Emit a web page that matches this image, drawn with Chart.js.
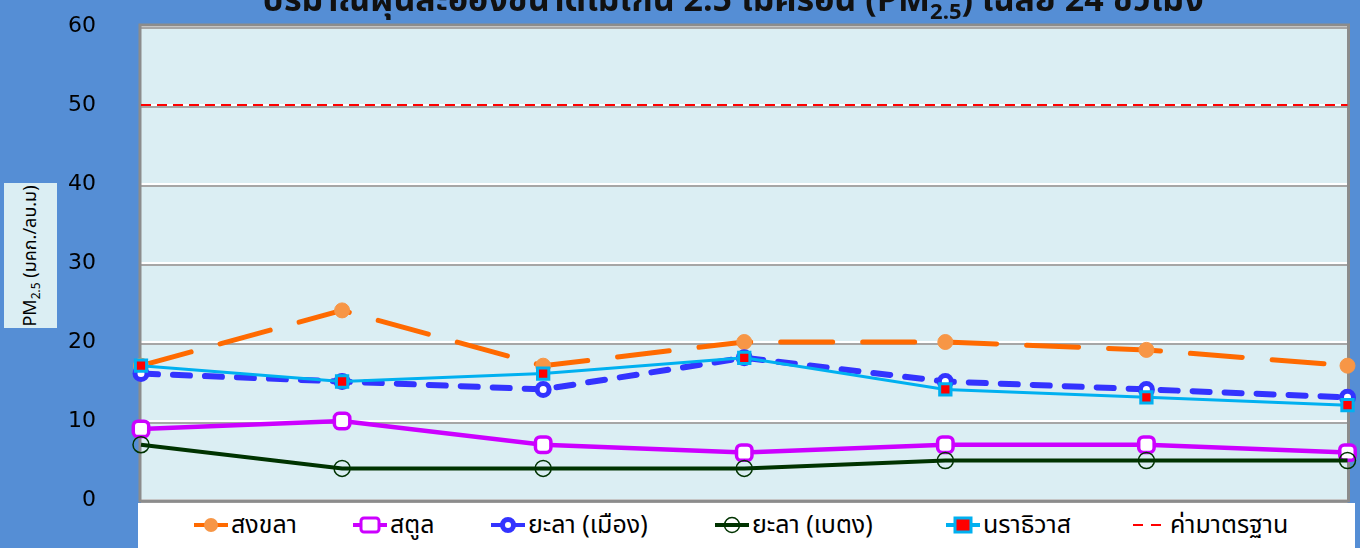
<!DOCTYPE html>
<html>
<head>
<meta charset="utf-8">
<script src="https://cdn.jsdelivr.net/npm/chart.js@4.4.1/dist/chart.umd.min.js"></script>
<style>
  html, body { margin: 0; padding: 0; }
  body { width: 1360px; height: 548px; background: #558ED5; position: relative; overflow: hidden;
         font-family: Tahoma, "Noto Sans Thai", "Noto Sans", "DejaVu Sans", sans-serif; }
  #wrap { position: absolute; left: 0; top: 0; width: 1360px; height: 548px; }
  #title { position: absolute; left: 0; width: 1466px; top: -25px; text-align: center;
           font-size: 34px; font-weight: bold; color: #111; white-space: nowrap; }
  #title sub { font-size: 22px; }
  #ytitle { position: absolute; left: 4px; top: 183px; width: 53px; height: 145px; background: #DBEEF3; }
  #ytitle span { position: absolute; left: 50%; top: 50%; transform: translate(-50%, -50%) rotate(-90deg);
                 white-space: nowrap; font-size: 18px; color: #000; }
  #ytitle sub { font-size: 12px; }
  #legend { position: absolute; left: 138px; top: 503px; width: 1217px; height: 45px; background: #fff; }
  .item { position: absolute; top: 8px; height: 28px; display: flex; align-items: center;
          font-size: 25px; color: #000; white-space: nowrap; }
  .item svg { margin-right: 3px; }
</style>
</head>
<body>
<div id="wrap"><canvas id="graphCanvas" width="1360" height="548"></canvas></div>
<div id="title">ปริมาณฝุ่นละอองขนาดไม่เกิน 2.5 ไมครอน (PM<sub>2.5</sub>) เฉลี่ย 24 ชั่วโมง</div>
<div id="ytitle"><span>PM<sub>2.5</sub> (มคก./ลบ.ม)</span></div>
<div id="legend"></div>
<script>
// ข้อมูล
var categories = ['1', '2', '3', '4', '5', '6', '7'];
var seriesNames = ['สงขลา', 'สตูล', 'ยะลา (เมือง)', 'ยะลา (เบตง)', 'นราธิวาส', 'ค่ามาตรฐาน'];
var songkhla = [17, 24, 17, 20, 20, 19, 17];
var satun = [9, 10, 7, 6, 7, 7, 6];
var yalaMueang = [16, 15, 14, 18, 15, 14, 13];
var yalaBetong = [7, 4, 4, 4, 5, 5, 5];
var narathiwat = [17, 15, 16, 18, 14, 13, 12];
var standard = [50, 50, 50, 50, 50, 50, 50];
var yTicks = [0, 10, 20, 30, 40, 50, 60];

// พื้นหลังพื้นที่กราฟ + เส้นเงาของ grid + กรอบ
var plotBg = {
    id: 'plotBg',
    beforeDraw: function(chart) {
        var ctx = chart.ctx, a = chart.chartArea, y = chart.scales.y;
        ctx.save();
        ctx.fillStyle = '#DBEEF3';
        ctx.fillRect(a.left, a.top, a.right - a.left, a.bottom - a.top);
        ctx.strokeStyle = '#A6A6A6';
        ctx.lineWidth = 2;
        yTicks.forEach(function(v) {
            var py = Math.round(y.getPixelForValue(v)) + 2;
            ctx.beginPath();
            ctx.moveTo(a.left, py);
            ctx.lineTo(a.right, py);
            ctx.stroke();
        });
        ctx.restore();
    },
    beforeDatasetsDraw: function(chart) {
        var ctx = chart.ctx, a = chart.chartArea;
        ctx.save();
        ctx.strokeStyle = '#8C8C8C';
        ctx.lineWidth = 3;
        ctx.strokeRect(a.left - 1, a.top - 1, a.right - a.left + 2, a.bottom - a.top + 2);
        ctx.restore();
    }
};

var datasets = [
    { label: seriesNames[0], data: songkhla, borderColor: '#FF6A00', borderWidth: 5, borderDash: [52, 30], borderCapStyle: 'round',
      pointStyle: 'circle', pointRadius: 7.5, pointBackgroundColor: '#F79646', pointBorderColor: '#F79646', pointBorderWidth: 1 },
    { label: seriesNames[1], data: satun, borderColor: '#CC00FF', borderWidth: 4.5,
      pointStyle: 'rectRounded', pointRadius: 9, pointBackgroundColor: '#FFFFFF', pointBorderColor: '#CC00FF', pointBorderWidth: 3.5 },
    { label: seriesNames[2], data: yalaMueang, borderColor: '#3333FF', borderWidth: 6, borderDash: [17, 15], borderCapStyle: 'round',
      pointStyle: 'circle', pointRadius: 6, pointBackgroundColor: '#FFFFFF', pointBorderColor: '#3333FF', pointBorderWidth: 5 },
    { label: seriesNames[3], data: yalaBetong, borderColor: '#003300', borderWidth: 4,
      pointStyle: 'circle', pointRadius: 8, pointBackgroundColor: 'rgba(0,0,0,0)', pointBorderColor: '#003300', pointBorderWidth: 1.5 },
    { label: seriesNames[4], data: narathiwat, borderColor: '#00B0F0', borderWidth: 3,
      pointStyle: 'rect', pointRadius: 8, pointBackgroundColor: '#FF0000', pointBorderColor: '#00B0F0', pointBorderWidth: 3 },
    { label: seriesNames[5], data: standard, borderColor: '#FF0000', borderWidth: 2, borderDash: [10, 6],
      pointRadius: 0 }
];
datasets.forEach(function(d, i) {
    d.order = 10 - i;       // ชุดหลังวาดทับชุดก่อน
    d.fill = false;
    d.tension = 0;
    d.clip = false;
    d.pointHoverRadius = d.pointRadius;
});

var ctx = document.getElementById('graphCanvas').getContext('2d');
window.myChart = new Chart(ctx, {
    type: 'line',
    data: { labels: categories, datasets: datasets },
    plugins: [plotBg],
    options: {
        responsive: false,
        animation: false,
        layout: { padding: { left: 0, right: 6, top: 26, bottom: 48 } },
        plugins: { legend: { display: false }, tooltip: { enabled: false }, title: { display: false } },
        scales: {
            x: { display: false, offset: false },
            y: {
                min: 0, max: 60,
                // ความกว้างแกน y คงที่ และไม่ให้ padding ของ tick ไปดันด้านบน/ล่าง
                afterFit: function(s) { s.width = 141; s.paddingTop = 0; s.paddingBottom = 0; },
                border: { display: false },
                grid: { color: '#FFFFFF', lineWidth: 2, drawTicks: false },
                ticks: { stepSize: 10, padding: 45, color: '#000', font: { family: 'DejaVu Sans', size: 22 } }
            }
        }
    }
});

// คำอธิบายสัญลักษณ์
var legendPos = [56, 215, 353, 577, 808, 995];
function icon(i) {
    var d = datasets[i];
    var s = '<svg width="34" height="20" viewBox="0 0 34 20">';
    var dash = i === 5 ? ' stroke-dasharray="10 8"' : '';
    var lw = i === 5 ? 2 : 4;
    s += '<line x1="0" y1="10" x2="34" y2="10" stroke="' + d.borderColor + '" stroke-width="' + lw + '"' + dash + '/>';
    if (i === 0) s += '<circle cx="17" cy="10" r="7" fill="#F79646"/>';
    if (i === 1) s += '<rect x="8" y="3" width="18" height="14" rx="3" fill="#fff" stroke="#CC00FF" stroke-width="3"/>';
    if (i === 2) s += '<circle cx="17" cy="10" r="5.5" fill="#fff" stroke="#3333FF" stroke-width="5"/>';
    if (i === 3) s += '<circle cx="17" cy="10" r="7.5" fill="none" stroke="#003300" stroke-width="1.5"/>';
    if (i === 4) s += '<rect x="9" y="3" width="16" height="14" fill="#FF0000" stroke="#00B0F0" stroke-width="3"/>';
    return s + '</svg>';
}
var lg = document.getElementById('legend');
seriesNames.forEach(function(n, i) {
    var el = document.createElement('div');
    el.className = 'item';
    el.style.left = legendPos[i] + 'px';
    el.innerHTML = icon(i) + '<span>' + n + '</span>';
    lg.appendChild(el);
});
</script>
</body>
</html>
